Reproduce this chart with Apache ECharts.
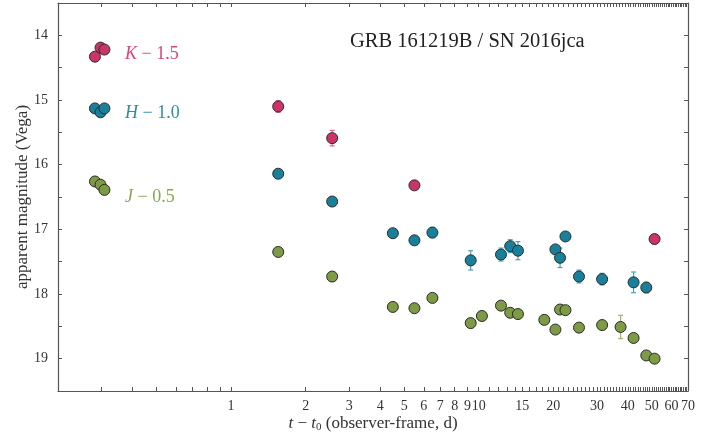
<!DOCTYPE html>
<html>
<head>
<meta charset="UTF-8">
<title>GRB 161219B / SN 2016jca</title>
<script src="https://cdn.jsdelivr.net/npm/echarts@6/dist/echarts.min.js"></script>
</head>
<body style="margin:0">
<div id="main" style="width:718px;height:446px;"></div>
<script type="text/javascript">
// K - 1.5
var kTime = [0.282, 0.297, 0.308, 1.55, 2.56, 5.50, 51.3];
var kMag = [14.33, 14.19, 14.22, 15.10, 15.59, 16.32, 17.15];
var kErr = [0, 0, 0, 0.09, 0.12, 0, 0];

// H - 1.0
var hTime = [0.282, 0.297, 0.308, 1.55, 2.56, 4.50, 5.50, 6.50, 9.28, 12.3, 13.4, 14.4, 20.4, 21.3, 22.4, 25.4, 31.5, 42.2, 47.5];
var hMag = [15.13, 15.19, 15.13, 16.14, 16.57, 17.06, 17.17, 17.05, 17.48, 17.39, 17.26, 17.33, 17.31, 17.44, 17.11, 17.73, 17.77, 17.82, 17.90];
var hErr = [0, 0, 0, 0, 0, 0, 0.03, 0.08, 0.15, 0.10, 0.10, 0.14, 0.05, 0.15, 0.06, 0.10, 0.09, 0.16, 0.08];

// J - 0.5
var jTime = [0.282, 0.297, 0.308, 1.55, 2.56, 4.50, 5.50, 6.50, 9.28, 10.3, 12.3, 13.4, 14.4, 18.4, 20.4, 21.3, 22.4, 25.4, 31.5, 37.4, 42.2, 47.5, 51.3];
var jMag = [16.26, 16.31, 16.39, 17.35, 17.73, 18.20, 18.22, 18.06, 18.45, 18.34, 18.18, 18.29, 18.31, 18.40, 18.55, 18.24, 18.25, 18.52, 18.48, 18.51, 18.68, 18.95, 19.00];
var jErr = [0, 0, 0, 0, 0, 0, 0, 0.06, 0.07, 0, 0.02, 0, 0.04, 0.04, 0.06, 0.02, 0, 0.03, 0.05, 0.18, 0.05, 0.06, 0];

// tick labels
var xLabels = [1, 2, 3, 4, 5, 6, 7, 8, 9, 10, 15, 20, 30, 40, 50, 60, 70];
var yLabels = [14, 15, 16, 17, 18, 19];

var xTicks = [0.3, 0.4, 0.5, 0.6, 0.7, 0.8, 0.9];
for (var n = 1; n <= 70; n++) xTicks.push(n);

var serif = 'Liberation Serif';

function points(t, m) {
    return t.map(function (v, i) { return [v, m[i]]; });
}
function bars(t, m, e) {
    var out = [];
    t.forEach(function (v, i) {
        if (e[i] > 0) out.push([v, m[i] - e[i], m[i] + e[i]]);
    });
    return out;
}
function errRender(color) {
    return function (params, api) {
        var a = api.coord([api.value(0), api.value(1)]);
        var b = api.coord([api.value(0), api.value(2)]);
        var st = { stroke: color, lineWidth: 1.2 };
        return {
            type: 'group',
            children: [
                { type: 'line', shape: { x1: a[0], y1: a[1], x2: b[0], y2: b[1] }, style: st },
                { type: 'line', shape: { x1: a[0] - 2.5, y1: a[1], x2: a[0] + 2.5, y2: a[1] }, style: st },
                { type: 'line', shape: { x1: b[0] - 2.5, y1: b[1], x2: b[0] + 2.5, y2: b[1] }, style: st }
            ]
        };
    };
}

var kColor = '#cc3366', hColor = '#18809a', jColor = '#7d9a45';

function scatter(name, data, color) {
    return {
        name: name, type: 'scatter', data: data, symbolSize: 11, z: 3,
        itemStyle: { color: color, borderColor: '#2b2b2b', borderWidth: 1, opacity: 1 }
    };
}
function errSeries(data, color) {
    return { type: 'custom', data: data, renderItem: errRender(color), z: 2, silent: true };
}

function bandLabel(letter, rest, color, top) {
    return {
        type: 'text', left: 125, top: top,
        style: {
            text: '{i|' + letter + '} − ' + rest, fill: color, font: '18px "Liberation Serif"',
            rich: { i: { fontStyle: 'italic', fontFamily: serif, fontSize: 18, fill: color } }
        }
    };
}

var axisLine = { show: true, lineStyle: { color: '#555', width: 1.2 } };

var myChart = echarts.init(document.getElementById('main'));
var option = {
    animation: false,
    backgroundColor: '#fff',
    grid: { left: 58, right: 30, top: 3, bottom: 55, outerBoundsMode: 'none', containLabel: false },
    xAxis: [{
        type: 'log', logBase: 10, min: 0.2, max: 70,
        name: '{i|t} − {i|t}{s|0} (observer-frame, d)',
        nameLocation: 'middle', nameGap: 24, nameMoveOverlap: false,
        nameTextStyle: {
            fontFamily: serif, fontSize: 17, color: '#333',
            rich: {
                i: { fontFamily: serif, fontStyle: 'italic', fontSize: 17, color: '#333' },
                s: { fontFamily: serif, fontSize: 11, color: '#333', verticalAlign: 'bottom', padding: [7, 0, 0, 0] }
            }
        },
        axisLine: axisLine,
        axisTick: { inside: true, length: 4, customValues: xTicks, lineStyle: { color: '#555' } },
        axisLabel: { customValues: xLabels, fontFamily: serif, fontSize: 14, color: '#333', margin: 8 },
        splitLine: { show: false }, minorTick: { show: false }
    }, {
        type: 'log', logBase: 10, min: 0.2, max: 70, position: 'top',
        axisLine: axisLine,
        axisTick: { inside: true, length: 4, customValues: xTicks, lineStyle: { color: '#555' } },
        axisLabel: { show: false }, splitLine: { show: false }
    }],
    yAxis: [{
        type: 'value', inverse: true, min: 13.5, max: 19.5, interval: 0.5,
        name: 'apparent magnitude (Vega)', nameLocation: 'middle', nameGap: 27, nameMoveOverlap: false,
        nameTextStyle: { fontFamily: serif, fontSize: 17, color: '#333' },
        axisLine: axisLine,
        axisTick: { inside: true, length: 4, lineStyle: { color: '#555' } },
        axisLabel: {
            fontFamily: serif, fontSize: 14, color: '#333', margin: 10,
            formatter: function (v) { return yLabels.indexOf(v) >= 0 ? String(v) : ''; }
        },
        splitLine: { show: false }
    }, {
        type: 'value', inverse: true, min: 13.5, max: 19.5, interval: 0.5, position: 'right',
        axisLine: axisLine,
        axisTick: { inside: true, length: 4, lineStyle: { color: '#555' } },
        axisLabel: { show: false }, splitLine: { show: false }
    }],
    graphic: [
        { type: 'text', left: 350, top: 31, style: { text: 'GRB 161219B / SN 2016jca', font: '20.5px "Liberation Serif"', fill: '#222' } },
        bandLabel('K', '1.5', '#d6467a', 45),
        bandLabel('H', '1.0', '#2a8ca6', 104),
        bandLabel('J', '0.5', '#8aa552', 188)
    ],
    series: [
        errSeries(bars(jTime, jMag, jErr), '#9fb56e'),
        errSeries(bars(hTime, hMag, hErr), '#4aa3bb'),
        errSeries(bars(kTime, kMag, kErr), '#e0648e'),
        scatter('J', points(jTime, jMag), jColor),
        scatter('H', points(hTime, hMag), hColor),
        scatter('K', points(kTime, kMag), kColor)
    ]
};
myChart.setOption(option);
</script>
</body>
</html>
